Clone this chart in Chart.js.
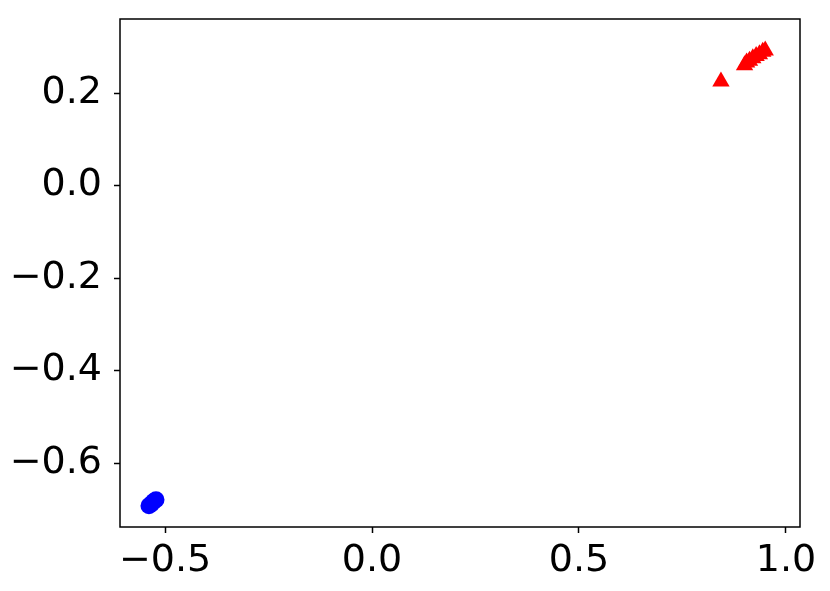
<!DOCTYPE html>
<html>
<head>
<meta charset="utf-8">
<script src="https://cdn.jsdelivr.net/npm/chart.js@4/dist/chart.umd.min.js"></script>
<style>
  html, body { margin: 0; padding: 0; background: #fff; }
  #wrap { width: 830px; height: 591px; position: relative; }
</style>
</head>
<body>
<div id="wrap"><canvas id="chart" width="830" height="591"></canvas></div>
<script>
// ===== Data =====
const redX = [0.843, 0.900, 0.905, 0.912, 0.920, 0.928, 0.936, 0.944, 0.950];
const redY = [0.225, 0.260, 0.266, 0.270, 0.275, 0.280, 0.284, 0.289, 0.292];
const blueX = [-0.539, -0.533, -0.528, -0.522];
const blueY = [-0.692, -0.688, -0.683, -0.679];

const xTicks = [-0.5, 0.0, 0.5, 1.0];
const yTicks = [-0.6, -0.4, -0.2, 0.0, 0.2];

const toPoints = (xs, ys) => xs.map((x, i) => ({ x, y: ys[i] }));
const fmt = v => (v < 0 ? '\u2212' : '') + Math.abs(v).toFixed(1);

// frame around plot area (matplotlib style box)
const frame = {
  id: 'frame',
  afterDraw(chart) {
    const { ctx, chartArea: a } = chart;
    ctx.save();
    ctx.strokeStyle = '#000';
    ctx.lineWidth = 1.5;
    ctx.strokeRect(a.left, a.top, a.right - a.left, a.bottom - a.top);
    ctx.restore();
  }
};

const tickFont = { family: 'DejaVu Sans', size: 38 };

// keep the plot box where we want it, ignore label overhang
const noPad = s => { s.paddingTop = 0; s.paddingBottom = 0; s.paddingLeft = 0; s.paddingRight = 0; };

new Chart(document.getElementById('chart'), {
  type: 'scatter',
  data: {
    datasets: [
      {
        data: toPoints(blueX, blueY),
        pointStyle: 'circle',
        pointRadius: 8.5,
        backgroundColor: '#0000ff',
        borderWidth: 0,
      },
      {
        data: toPoints(redX, redY),
        pointStyle: 'triangle',
        pointRadius: 10,
        backgroundColor: '#ff0000',
        borderWidth: 0,
      }
    ]
  },
  options: {
    responsive: false,
    animation: false,
    layout: { padding: { top: 19, right: 30, left: 0, bottom: 0 } },
    plugins: { legend: { display: false }, tooltip: { enabled: false } },
    scales: {
      x: {
        type: 'linear',
        min: -0.609,
        max: 1.034,
        afterBuildTicks: s => { s.ticks = xTicks.map(v => ({ value: v })); },
        afterFit: s => { s.height = 64; noPad(s); },
        grid: { drawOnChartArea: false, drawTicks: true, tickLength: 6, color: '#000', tickWidth: 1.5 },
        border: { display: false },
        ticks: { color: '#000', font: tickFont, padding: 5, maxRotation: 0, callback: v => fmt(v) }
      },
      y: {
        type: 'linear',
        min: -0.738,
        max: 0.36,
        afterBuildTicks: s => { s.ticks = yTicks.map(v => ({ value: v })); },
        afterFit: s => { s.width = 120; noPad(s); },
        grid: { drawOnChartArea: false, drawTicks: true, tickLength: 6, color: '#000', tickWidth: 1.5 },
        border: { display: false },
        ticks: { color: '#000', font: tickFont, padding: 12, callback: v => fmt(v) }
      }
    }
  },
  plugins: [frame]
});
</script>
</body>
</html>
